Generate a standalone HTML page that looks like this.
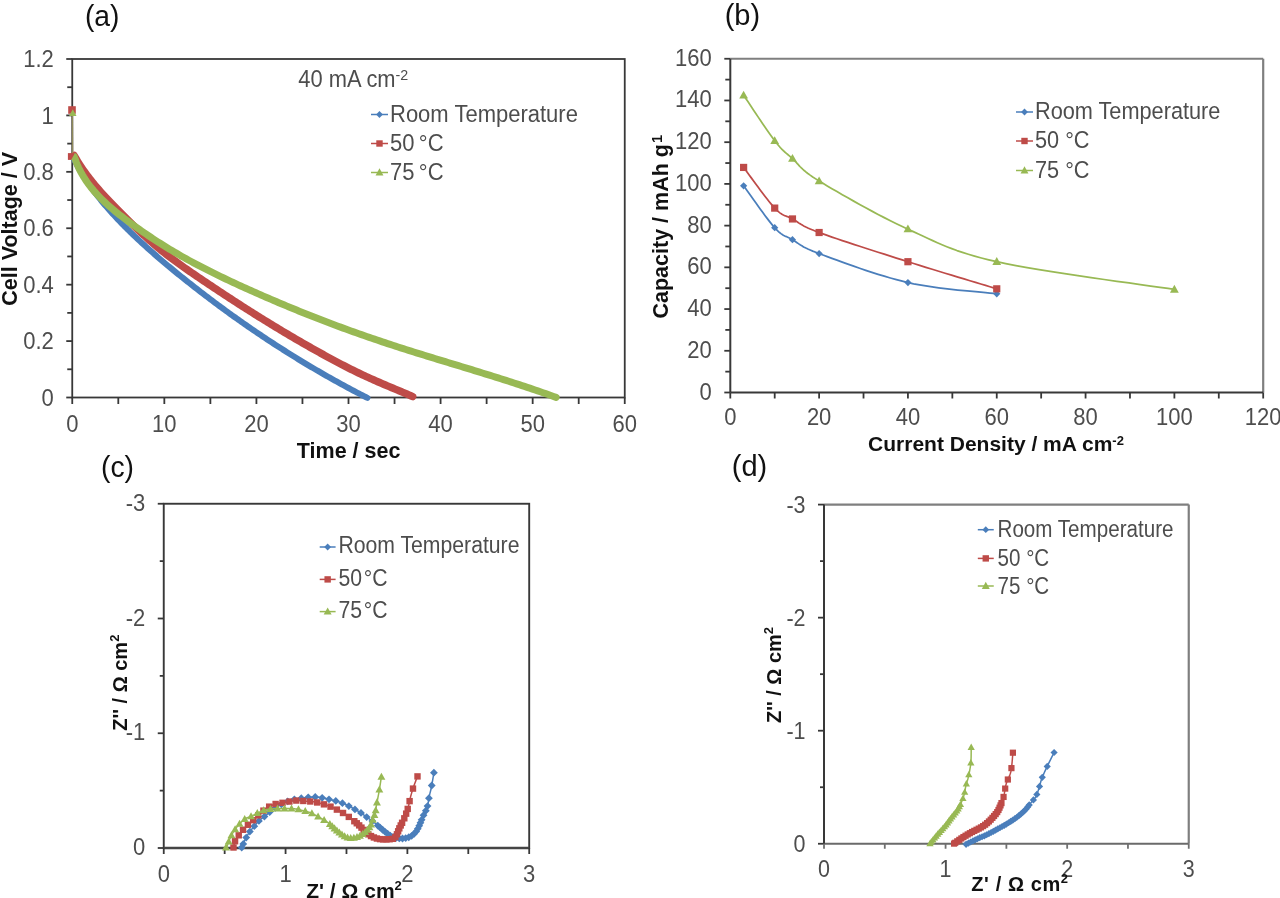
<!DOCTYPE html>
<html><head><meta charset="utf-8"><style>
html,body{margin:0;padding:0;background:#fff;}
svg{display:block;filter:blur(0.45px);font-family:"Liberation Sans",sans-serif;}
</style></head><body>
<svg width="1280" height="898" viewBox="0 0 1280 898">
<rect width="1280" height="898" fill="#fff"/>
<rect x="72.25" y="59" width="552.5" height="338.5" fill="none" stroke="#383838" stroke-width="1.8"/>
<line x1="66.25" y1="397.5" x2="72.25" y2="397.5" stroke="#383838" stroke-width="1.8"/>
<line x1="67.25" y1="369.29" x2="72.25" y2="369.29" stroke="#383838" stroke-width="1.8"/>
<line x1="66.25" y1="341.08" x2="72.25" y2="341.08" stroke="#383838" stroke-width="1.8"/>
<line x1="67.25" y1="312.88" x2="72.25" y2="312.88" stroke="#383838" stroke-width="1.8"/>
<line x1="66.25" y1="284.67" x2="72.25" y2="284.67" stroke="#383838" stroke-width="1.8"/>
<line x1="67.25" y1="256.46" x2="72.25" y2="256.46" stroke="#383838" stroke-width="1.8"/>
<line x1="66.25" y1="228.25" x2="72.25" y2="228.25" stroke="#383838" stroke-width="1.8"/>
<line x1="67.25" y1="200.04" x2="72.25" y2="200.04" stroke="#383838" stroke-width="1.8"/>
<line x1="66.25" y1="171.83" x2="72.25" y2="171.83" stroke="#383838" stroke-width="1.8"/>
<line x1="67.25" y1="143.62" x2="72.25" y2="143.62" stroke="#383838" stroke-width="1.8"/>
<line x1="66.25" y1="115.42" x2="72.25" y2="115.42" stroke="#383838" stroke-width="1.8"/>
<line x1="67.25" y1="87.21" x2="72.25" y2="87.21" stroke="#383838" stroke-width="1.8"/>
<line x1="66.25" y1="59" x2="72.25" y2="59" stroke="#383838" stroke-width="1.8"/>
<line x1="72.25" y1="397.5" x2="72.25" y2="404" stroke="#383838" stroke-width="1.8"/>
<line x1="118.29" y1="397.5" x2="118.29" y2="404" stroke="#383838" stroke-width="1.8"/>
<line x1="164.33" y1="397.5" x2="164.33" y2="404" stroke="#383838" stroke-width="1.8"/>
<line x1="210.38" y1="397.5" x2="210.38" y2="404" stroke="#383838" stroke-width="1.8"/>
<line x1="256.42" y1="397.5" x2="256.42" y2="404" stroke="#383838" stroke-width="1.8"/>
<line x1="302.46" y1="397.5" x2="302.46" y2="404" stroke="#383838" stroke-width="1.8"/>
<line x1="348.5" y1="397.5" x2="348.5" y2="404" stroke="#383838" stroke-width="1.8"/>
<line x1="394.54" y1="397.5" x2="394.54" y2="404" stroke="#383838" stroke-width="1.8"/>
<line x1="440.58" y1="397.5" x2="440.58" y2="404" stroke="#383838" stroke-width="1.8"/>
<line x1="486.62" y1="397.5" x2="486.62" y2="404" stroke="#383838" stroke-width="1.8"/>
<line x1="532.67" y1="397.5" x2="532.67" y2="404" stroke="#383838" stroke-width="1.8"/>
<line x1="578.71" y1="397.5" x2="578.71" y2="404" stroke="#383838" stroke-width="1.8"/>
<line x1="624.75" y1="397.5" x2="624.75" y2="404" stroke="#383838" stroke-width="1.8"/>
<text x="53.75" y="405.6" font-size="24.64" text-anchor="end" fill="#4d4d4d" textLength="12.24" lengthAdjust="spacingAndGlyphs">0</text>
<text x="53.75" y="349.18" font-size="24.64" text-anchor="end" fill="#4d4d4d" textLength="30.58" lengthAdjust="spacingAndGlyphs">0.2</text>
<text x="53.75" y="292.77" font-size="24.64" text-anchor="end" fill="#4d4d4d" textLength="30.58" lengthAdjust="spacingAndGlyphs">0.4</text>
<text x="53.75" y="236.35" font-size="24.64" text-anchor="end" fill="#4d4d4d" textLength="30.58" lengthAdjust="spacingAndGlyphs">0.6</text>
<text x="53.75" y="179.93" font-size="24.64" text-anchor="end" fill="#4d4d4d" textLength="30.58" lengthAdjust="spacingAndGlyphs">0.8</text>
<text x="53.75" y="123.52" font-size="24.64" text-anchor="end" fill="#4d4d4d" textLength="12.24" lengthAdjust="spacingAndGlyphs">1</text>
<text x="53.75" y="67.1" font-size="24.64" text-anchor="end" fill="#4d4d4d" textLength="30.58" lengthAdjust="spacingAndGlyphs">1.2</text>
<text x="72.25" y="431.8" font-size="24.64" text-anchor="middle" fill="#4d4d4d" textLength="12.24" lengthAdjust="spacingAndGlyphs">0</text>
<text x="164.33" y="431.8" font-size="24.64" text-anchor="middle" fill="#4d4d4d" textLength="24.47" lengthAdjust="spacingAndGlyphs">10</text>
<text x="256.42" y="431.8" font-size="24.64" text-anchor="middle" fill="#4d4d4d" textLength="24.47" lengthAdjust="spacingAndGlyphs">20</text>
<text x="348.5" y="431.8" font-size="24.64" text-anchor="middle" fill="#4d4d4d" textLength="24.47" lengthAdjust="spacingAndGlyphs">30</text>
<text x="440.58" y="431.8" font-size="24.64" text-anchor="middle" fill="#4d4d4d" textLength="24.47" lengthAdjust="spacingAndGlyphs">40</text>
<text x="532.67" y="431.8" font-size="24.64" text-anchor="middle" fill="#4d4d4d" textLength="24.47" lengthAdjust="spacingAndGlyphs">50</text>
<text x="624.75" y="431.8" font-size="24.64" text-anchor="middle" fill="#4d4d4d" textLength="24.47" lengthAdjust="spacingAndGlyphs">60</text>
<path d="M72.4,112 L72.6,155" fill="none" stroke="#4a7ebb" stroke-width="1.4" stroke-linejoin="round" stroke-linecap="round" opacity="0.55"/>
<path d="M73.29,157.65 L74.13,159.35 L74.98,161.04 L75.84,162.73 L76.73,164.41 L77.63,166.08 L78.55,167.74 L79.49,169.39 L80.45,171.03 L81.42,172.67 L82.4,174.3 L83.41,175.91 L84.42,177.52 L85.46,179.13 L86.5,180.72 L87.57,182.31 L88.64,183.88 L89.74,185.46 L90.84,187.02 L91.96,188.57 L93.09,190.12 L94.23,191.66 L95.39,193.19 L96.56,194.72 L97.74,196.24 L98.94,197.75 L100.14,199.25 L101.36,200.75 L102.58,202.23 L103.82,203.72 L105.07,205.19 L106.33,206.66 L107.59,208.12 L108.87,209.58 L110.16,211.03 L111.45,212.47 L112.75,213.91 L114.07,215.34 L115.39,216.76 L116.72,218.18 L118.05,219.59 L119.39,220.99 L120.74,222.39 L122.1,223.78 L123.46,225.17 L124.83,226.55 L126.2,227.93 L127.58,229.3 L128.97,230.66 L130.36,232.02 L131.75,233.38 L133.15,234.73 L134.56,236.07 L135.96,237.41 L137.38,238.74 L138.79,240.07 L140.21,241.39 L141.64,242.71 L143.07,244.02 L144.5,245.33 L145.94,246.64 L147.38,247.94 L148.83,249.23 L150.28,250.52 L151.73,251.81 L153.18,253.09 L154.64,254.37 L156.11,255.64 L157.57,256.91 L159.04,258.18 L160.51,259.44 L161.99,260.7 L163.47,261.95 L164.95,263.2 L166.43,264.45 L167.92,265.69 L169.41,266.93 L170.9,268.17 L172.4,269.4 L173.89,270.63 L175.39,271.86 L176.89,273.08 L178.4,274.3 L179.9,275.52 L181.41,276.73 L182.92,277.94 L184.43,279.15 L185.95,280.36 L187.46,281.56 L188.98,282.77 L190.5,283.96 L192.02,285.16 L193.54,286.35 L195.06,287.55 L196.59,288.73 L198.12,289.92 L199.64,291.1 L201.18,292.28 L202.71,293.46 L204.24,294.63 L205.78,295.81 L207.32,296.98 L208.86,298.14 L210.4,299.31 L211.94,300.47 L213.49,301.63 L215.03,302.78 L216.58,303.94 L218.13,305.09 L219.69,306.23 L221.24,307.38 L222.8,308.52 L224.35,309.66 L225.91,310.8 L227.48,311.93 L229.04,313.07 L230.6,314.19 L232.17,315.32 L233.74,316.44 L235.31,317.56 L236.88,318.68 L238.46,319.8 L240.04,320.91 L241.61,322.02 L243.19,323.13 L244.78,324.23 L246.36,325.33 L247.95,326.43 L249.53,327.52 L251.12,328.62 L252.72,329.71 L254.31,330.79 L255.91,331.88 L257.5,332.96 L259.1,334.04 L260.7,335.11 L262.31,336.19 L263.91,337.26 L265.52,338.33 L267.13,339.39 L268.74,340.45 L270.35,341.51 L271.97,342.57 L273.58,343.62 L275.2,344.67 L276.82,345.72 L278.45,346.76 L280.07,347.8 L281.7,348.84 L283.33,349.88 L284.96,350.91 L286.59,351.94 L288.23,352.97 L289.86,353.99 L291.5,355.02 L293.14,356.03 L294.79,357.05 L296.43,358.06 L298.08,359.07 L299.73,360.08 L301.38,361.08 L303.03,362.08 L304.69,363.08 L306.34,364.08 L308,365.07 L309.66,366.06 L311.33,367.04 L312.99,368.03 L314.66,369.01 L316.33,369.99 L318,370.96 L319.67,371.93 L321.35,372.9 L323.03,373.87 L324.71,374.83 L326.39,375.79 L328.07,376.74 L329.76,377.7 L331.45,378.65 L333.14,379.6 L334.83,380.54 L336.53,381.48 L338.22,382.42 L339.92,383.36 L341.62,384.29 L343.33,385.22 L345.03,386.14 L346.74,387.07 L348.45,387.99 L350.16,388.9 L351.87,389.82 L353.59,390.73 L355.31,391.64 L357.03,392.54 L358.75,393.44 L360.48,394.34 L362.2,395.24 L363.93,396.13 L365.67,397.02 L367.4,397.91" fill="none" stroke="#4a7ebb" stroke-width="6" stroke-linejoin="round" stroke-linecap="round" />
<path d="M72.4,112 L72.6,155" fill="none" stroke="#be4b48" stroke-width="1.4" stroke-linejoin="round" stroke-linecap="round" opacity="0.55"/>
<path d="M74.15,155.5 L75.22,157.39 L76.32,159.26 L77.43,161.11 L78.56,162.94 L79.71,164.74 L80.88,166.53 L82.07,168.29 L83.27,170.04 L84.49,171.77 L85.73,173.48 L86.98,175.17 L88.25,176.85 L89.53,178.52 L90.83,180.17 L92.14,181.8 L93.47,183.42 L94.8,185.03 L96.15,186.63 L97.52,188.22 L98.89,189.79 L100.27,191.36 L101.67,192.92 L103.07,194.47 L104.49,196.01 L105.91,197.54 L107.35,199.07 L108.79,200.6 L110.24,202.11 L111.69,203.63 L113.16,205.14 L114.62,206.65 L116.1,208.15 L117.58,209.66 L119.07,211.16 L120.56,212.67 L122.05,214.17 L123.55,215.67 L125.06,217.18 L126.56,218.67 L128.08,220.17 L129.6,221.66 L131.12,223.15 L132.65,224.64 L134.19,226.12 L135.73,227.6 L137.28,229.07 L138.83,230.54 L140.39,232 L141.95,233.45 L143.52,234.9 L145.1,236.34 L146.68,237.77 L148.27,239.2 L149.86,240.61 L151.47,242.02 L153.07,243.42 L154.69,244.8 L156.31,246.18 L157.94,247.55 L159.57,248.9 L161.21,250.24 L162.86,251.57 L164.52,252.89 L166.18,254.2 L167.85,255.49 L169.52,256.78 L171.2,258.05 L172.89,259.32 L174.58,260.57 L176.27,261.82 L177.98,263.06 L179.68,264.29 L181.39,265.52 L183.11,266.73 L184.83,267.95 L186.55,269.15 L188.27,270.35 L190,271.55 L191.74,272.74 L193.47,273.93 L195.21,275.12 L196.95,276.3 L198.69,277.48 L200.43,278.66 L202.17,279.84 L203.92,281.02 L205.67,282.19 L207.42,283.37 L209.17,284.54 L210.92,285.71 L212.67,286.88 L214.43,288.05 L216.19,289.22 L217.95,290.38 L219.71,291.55 L221.47,292.71 L223.23,293.87 L225,295.03 L226.76,296.19 L228.53,297.34 L230.3,298.5 L232.07,299.65 L233.85,300.8 L235.62,301.95 L237.4,303.1 L239.18,304.24 L240.96,305.38 L242.74,306.53 L244.52,307.66 L246.31,308.8 L248.09,309.94 L249.88,311.07 L251.67,312.2 L253.46,313.33 L255.26,314.46 L257.05,315.58 L258.85,316.7 L260.65,317.82 L262.45,318.94 L264.25,320.06 L266.05,321.17 L267.86,322.28 L269.67,323.39 L271.48,324.5 L273.29,325.6 L275.1,326.7 L276.92,327.8 L278.73,328.9 L280.55,329.99 L282.37,331.09 L284.19,332.17 L286.02,333.26 L287.84,334.34 L289.67,335.43 L291.5,336.5 L293.33,337.58 L295.16,338.65 L297,339.72 L298.84,340.79 L300.67,341.85 L302.51,342.92 L304.36,343.97 L306.2,345.03 L308.05,346.08 L309.9,347.13 L311.75,348.18 L313.6,349.22 L315.45,350.26 L317.31,351.3 L319.17,352.33 L321.03,353.37 L322.89,354.39 L324.75,355.42 L326.62,356.44 L328.48,357.46 L330.35,358.47 L332.23,359.48 L334.1,360.49 L335.97,361.49 L337.85,362.49 L339.73,363.48 L341.61,364.47 L343.5,365.44 L345.38,366.42 L347.27,367.38 L349.16,368.34 L351.05,369.29 L352.95,370.23 L354.84,371.16 L356.74,372.09 L358.64,373 L360.54,373.91 L362.45,374.81 L364.35,375.7 L366.26,376.58 L368.17,377.45 L370.08,378.32 L372,379.18 L373.91,380.04 L375.83,380.88 L377.75,381.73 L379.68,382.56 L381.6,383.39 L383.53,384.21 L385.46,385.03 L387.39,385.85 L389.33,386.66 L391.26,387.48 L393.2,388.29 L395.14,389.1 L397.08,389.92 L399.03,390.73 L400.98,391.55 L402.93,392.37 L404.88,393.2 L406.83,394.03 L408.79,394.87 L410.74,395.72 L412.71,396.58" fill="none" stroke="#be4b48" stroke-width="7.5" stroke-linejoin="round" stroke-linecap="round" />
<path d="M72.4,112 L72.6,155" fill="none" stroke="#98b954" stroke-width="1.4" stroke-linejoin="round" stroke-linecap="round" opacity="0.55"/>
<path d="M74.3,156.83 L75.24,159.57 L76.26,162.25 L77.34,164.87 L78.5,167.43 L79.73,169.95 L81.02,172.4 L82.37,174.81 L83.79,177.17 L85.26,179.47 L86.79,181.74 L88.38,183.95 L90.02,186.13 L91.71,188.26 L93.44,190.35 L95.22,192.4 L97.05,194.42 L98.92,196.4 L100.82,198.35 L102.77,200.27 L104.74,202.15 L106.75,204.01 L108.79,205.84 L110.86,207.65 L112.96,209.43 L115.08,211.19 L117.22,212.92 L119.38,214.64 L121.55,216.35 L123.75,218.03 L125.95,219.7 L128.17,221.36 L130.39,223.01 L132.62,224.65 L134.87,226.27 L137.12,227.88 L139.38,229.48 L141.66,231.07 L143.94,232.64 L146.23,234.21 L148.52,235.76 L150.83,237.29 L153.14,238.82 L155.47,240.33 L157.8,241.84 L160.14,243.32 L162.48,244.8 L164.83,246.26 L167.2,247.72 L169.56,249.15 L171.94,250.58 L174.32,251.99 L176.71,253.39 L179.11,254.78 L181.51,256.16 L183.92,257.52 L186.33,258.87 L188.75,260.2 L191.18,261.53 L193.61,262.84 L196.05,264.14 L198.49,265.43 L200.94,266.71 L203.4,267.98 L205.86,269.24 L208.32,270.48 L210.79,271.72 L213.26,272.95 L215.74,274.17 L218.22,275.38 L220.71,276.59 L223.2,277.78 L225.69,278.97 L228.19,280.15 L230.69,281.33 L233.2,282.49 L235.71,283.66 L238.22,284.81 L240.73,285.96 L243.25,287.11 L245.77,288.25 L248.29,289.39 L250.82,290.52 L253.34,291.65 L255.87,292.77 L258.41,293.89 L260.94,295 L263.48,296.11 L266.02,297.21 L268.56,298.31 L271.1,299.41 L273.65,300.5 L276.2,301.59 L278.75,302.67 L281.3,303.74 L283.86,304.81 L286.42,305.88 L288.98,306.94 L291.54,308 L294.1,309.05 L296.67,310.1 L299.23,311.14 L301.8,312.18 L304.38,313.21 L306.95,314.24 L309.53,315.27 L312.1,316.28 L314.68,317.3 L317.26,318.3 L319.85,319.31 L322.43,320.31 L325.02,321.3 L327.61,322.29 L330.2,323.27 L332.79,324.25 L335.38,325.22 L337.98,326.19 L340.57,327.15 L343.17,328.1 L345.77,329.06 L348.37,330 L350.97,330.94 L353.58,331.88 L356.18,332.81 L358.79,333.73 L361.4,334.65 L364,335.57 L366.62,336.48 L369.23,337.38 L371.84,338.28 L374.45,339.17 L377.07,340.06 L379.69,340.94 L382.3,341.82 L384.92,342.69 L387.54,343.55 L390.16,344.41 L392.78,345.27 L395.41,346.12 L398.03,346.97 L400.66,347.81 L403.28,348.65 L405.91,349.48 L408.54,350.31 L411.16,351.14 L413.79,351.97 L416.42,352.79 L419.05,353.61 L421.68,354.42 L424.32,355.24 L426.95,356.05 L429.58,356.86 L432.21,357.67 L434.85,358.48 L437.48,359.28 L440.12,360.09 L442.75,360.89 L445.39,361.69 L448.03,362.49 L450.66,363.3 L453.3,364.1 L455.94,364.9 L458.58,365.7 L461.22,366.5 L463.85,367.31 L466.49,368.11 L469.13,368.92 L471.77,369.72 L474.41,370.53 L477.05,371.34 L479.69,372.15 L482.33,372.97 L484.97,373.78 L487.61,374.6 L490.25,375.42 L492.89,376.24 L495.53,377.07 L498.17,377.9 L500.81,378.73 L503.44,379.57 L506.08,380.41 L508.72,381.26 L511.36,382.11 L514,382.96 L516.64,383.82 L519.27,384.69 L521.91,385.55 L524.55,386.43 L527.18,387.31 L529.82,388.19 L532.46,389.09 L535.09,389.98 L537.73,390.89 L540.36,391.8 L542.99,392.71 L545.63,393.64 L548.26,394.57 L550.89,395.51 L553.52,396.45 L556.15,397.41" fill="none" stroke="#98b954" stroke-width="7" stroke-linejoin="round" stroke-linecap="round" />
<rect x="68.2" y="106.2" width="7.6" height="7.6" fill="#be4b48"/>
<path d="M72.8,109.29 L76.54,115.92 L69.06,115.92Z" fill="#98b954"/>
<rect x="67.9" y="153.1" width="6.8" height="6.8" fill="#be4b48"/>
<path d="M75,153.06 L78.96,160.08 L71.04,160.08Z" fill="#98b954"/>
<line x1="371" y1="114.5" x2="388" y2="114.5" stroke="#4a7ebb" stroke-width="1.5"/>
<path d="M379.5,111.1 L382.9,114.5 L379.5,117.9 L376.1,114.5Z" fill="#4a7ebb"/>
<text x="390" y="121.97" font-size="24.64" text-anchor="start" fill="#4d4d4d" textLength="187.91" lengthAdjust="spacingAndGlyphs">Room Temperature</text>
<line x1="371" y1="143.5" x2="388" y2="143.5" stroke="#be4b48" stroke-width="1.5"/>
<rect x="376.3" y="140.3" width="6.4" height="6.4" fill="#be4b48"/>
<text x="390" y="150.97" font-size="24.64" text-anchor="start" fill="#4d4d4d" textLength="53.56" lengthAdjust="spacingAndGlyphs">50&#8201;°C</text>
<line x1="371" y1="172.5" x2="388" y2="172.5" stroke="#98b954" stroke-width="1.5"/>
<path d="M379.5,168.36 L383.46,175.38 L375.54,175.38Z" fill="#98b954"/>
<text x="390" y="179.97" font-size="24.64" text-anchor="start" fill="#4d4d4d" textLength="53.56" lengthAdjust="spacingAndGlyphs">75&#8201;°C</text>
<text x="298.3" y="87" font-size="23" text-anchor="start" fill="#4d4d4d" textLength="110" lengthAdjust="spacingAndGlyphs">40 mA cm<tspan font-size="15" dy="-7">-2</tspan></text>
<text x="348.6" y="458" font-size="21.5" text-anchor="middle" fill="#111111" font-weight="bold" >Time / sec</text>
<text x="0" y="0" font-size="21.5" text-anchor="middle" fill="#111111" font-weight="bold" transform="translate(17.2,228.8) rotate(-90)">Cell Voltage / V</text>
<text x="102.2" y="26.2" font-size="30" text-anchor="middle" fill="#111111" font-weight="normal" textLength="34.5" lengthAdjust="spacingAndGlyphs">(a)</text>
<line x1="730.3" y1="58.75" x2="1263.2" y2="58.75" stroke="#7f7f7f" stroke-width="2.2"/>
<line x1="1263.2" y1="58.75" x2="1263.2" y2="392.5" stroke="#7f7f7f" stroke-width="2.2"/>
<line x1="730.3" y1="58.75" x2="730.3" y2="392.5" stroke="#383838" stroke-width="2"/>
<line x1="730.3" y1="392.5" x2="1263.2" y2="392.5" stroke="#383838" stroke-width="2"/>
<line x1="724.3" y1="392.5" x2="730.3" y2="392.5" stroke="#383838" stroke-width="1.8"/>
<line x1="725.3" y1="371.64" x2="730.3" y2="371.64" stroke="#383838" stroke-width="1.8"/>
<line x1="724.3" y1="350.78" x2="730.3" y2="350.78" stroke="#383838" stroke-width="1.8"/>
<line x1="725.3" y1="329.92" x2="730.3" y2="329.92" stroke="#383838" stroke-width="1.8"/>
<line x1="724.3" y1="309.06" x2="730.3" y2="309.06" stroke="#383838" stroke-width="1.8"/>
<line x1="725.3" y1="288.2" x2="730.3" y2="288.2" stroke="#383838" stroke-width="1.8"/>
<line x1="724.3" y1="267.34" x2="730.3" y2="267.34" stroke="#383838" stroke-width="1.8"/>
<line x1="725.3" y1="246.48" x2="730.3" y2="246.48" stroke="#383838" stroke-width="1.8"/>
<line x1="724.3" y1="225.62" x2="730.3" y2="225.62" stroke="#383838" stroke-width="1.8"/>
<line x1="725.3" y1="204.77" x2="730.3" y2="204.77" stroke="#383838" stroke-width="1.8"/>
<line x1="724.3" y1="183.91" x2="730.3" y2="183.91" stroke="#383838" stroke-width="1.8"/>
<line x1="725.3" y1="163.05" x2="730.3" y2="163.05" stroke="#383838" stroke-width="1.8"/>
<line x1="724.3" y1="142.19" x2="730.3" y2="142.19" stroke="#383838" stroke-width="1.8"/>
<line x1="725.3" y1="121.33" x2="730.3" y2="121.33" stroke="#383838" stroke-width="1.8"/>
<line x1="724.3" y1="100.47" x2="730.3" y2="100.47" stroke="#383838" stroke-width="1.8"/>
<line x1="725.3" y1="79.61" x2="730.3" y2="79.61" stroke="#383838" stroke-width="1.8"/>
<line x1="724.3" y1="58.75" x2="730.3" y2="58.75" stroke="#383838" stroke-width="1.8"/>
<line x1="730.3" y1="392.5" x2="730.3" y2="398.5" stroke="#383838" stroke-width="1.8"/>
<line x1="774.71" y1="392.5" x2="774.71" y2="398.5" stroke="#383838" stroke-width="1.8"/>
<line x1="819.12" y1="392.5" x2="819.12" y2="398.5" stroke="#383838" stroke-width="1.8"/>
<line x1="863.52" y1="392.5" x2="863.52" y2="398.5" stroke="#383838" stroke-width="1.8"/>
<line x1="907.93" y1="392.5" x2="907.93" y2="398.5" stroke="#383838" stroke-width="1.8"/>
<line x1="952.34" y1="392.5" x2="952.34" y2="398.5" stroke="#383838" stroke-width="1.8"/>
<line x1="996.75" y1="392.5" x2="996.75" y2="398.5" stroke="#383838" stroke-width="1.8"/>
<line x1="1041.16" y1="392.5" x2="1041.16" y2="398.5" stroke="#383838" stroke-width="1.8"/>
<line x1="1085.57" y1="392.5" x2="1085.57" y2="398.5" stroke="#383838" stroke-width="1.8"/>
<line x1="1129.97" y1="392.5" x2="1129.97" y2="398.5" stroke="#383838" stroke-width="1.8"/>
<line x1="1174.38" y1="392.5" x2="1174.38" y2="398.5" stroke="#383838" stroke-width="1.8"/>
<line x1="1218.79" y1="392.5" x2="1218.79" y2="398.5" stroke="#383838" stroke-width="1.8"/>
<line x1="1263.2" y1="392.5" x2="1263.2" y2="398.5" stroke="#383838" stroke-width="1.8"/>
<text x="711.8" y="399.5" font-size="24.64" text-anchor="end" fill="#4d4d4d" textLength="12.24" lengthAdjust="spacingAndGlyphs">0</text>
<text x="711.8" y="357.78" font-size="24.64" text-anchor="end" fill="#4d4d4d" textLength="24.47" lengthAdjust="spacingAndGlyphs">20</text>
<text x="711.8" y="316.06" font-size="24.64" text-anchor="end" fill="#4d4d4d" textLength="24.47" lengthAdjust="spacingAndGlyphs">40</text>
<text x="711.8" y="274.34" font-size="24.64" text-anchor="end" fill="#4d4d4d" textLength="24.47" lengthAdjust="spacingAndGlyphs">60</text>
<text x="711.8" y="232.62" font-size="24.64" text-anchor="end" fill="#4d4d4d" textLength="24.47" lengthAdjust="spacingAndGlyphs">80</text>
<text x="711.8" y="190.91" font-size="24.64" text-anchor="end" fill="#4d4d4d" textLength="36.71" lengthAdjust="spacingAndGlyphs">100</text>
<text x="711.8" y="149.19" font-size="24.64" text-anchor="end" fill="#4d4d4d" textLength="36.71" lengthAdjust="spacingAndGlyphs">120</text>
<text x="711.8" y="107.47" font-size="24.64" text-anchor="end" fill="#4d4d4d" textLength="36.71" lengthAdjust="spacingAndGlyphs">140</text>
<text x="711.8" y="65.75" font-size="24.64" text-anchor="end" fill="#4d4d4d" textLength="36.71" lengthAdjust="spacingAndGlyphs">160</text>
<text x="730.3" y="425.3" font-size="24.64" text-anchor="middle" fill="#4d4d4d" textLength="12.24" lengthAdjust="spacingAndGlyphs">0</text>
<text x="819.12" y="425.3" font-size="24.64" text-anchor="middle" fill="#4d4d4d" textLength="24.47" lengthAdjust="spacingAndGlyphs">20</text>
<text x="907.93" y="425.3" font-size="24.64" text-anchor="middle" fill="#4d4d4d" textLength="24.47" lengthAdjust="spacingAndGlyphs">40</text>
<text x="996.75" y="425.3" font-size="24.64" text-anchor="middle" fill="#4d4d4d" textLength="24.47" lengthAdjust="spacingAndGlyphs">60</text>
<text x="1085.57" y="425.3" font-size="24.64" text-anchor="middle" fill="#4d4d4d" textLength="24.47" lengthAdjust="spacingAndGlyphs">80</text>
<text x="1174.38" y="425.3" font-size="24.64" text-anchor="middle" fill="#4d4d4d" textLength="36.71" lengthAdjust="spacingAndGlyphs">100</text>
<text x="1263.2" y="425.3" font-size="24.64" text-anchor="middle" fill="#4d4d4d" textLength="36.71" lengthAdjust="spacingAndGlyphs">120</text>
<path d="M743.62,185.78 L744.74,187.31 L746.11,189.22 L747.72,191.48 L749.52,194.02 L751.49,196.79 L753.59,199.75 L755.79,202.84 L758.06,206 L760.36,209.18 L762.66,212.34 L764.93,215.41 L767.15,218.35 L769.26,221.1 L771.25,223.62 L773.07,225.84 L774.71,227.71 L776.17,229.28 L777.51,230.63 L778.74,231.79 L779.88,232.77 L780.95,233.61 L781.96,234.32 L782.92,234.93 L783.87,235.46 L784.8,235.94 L785.75,236.39 L786.71,236.82 L787.72,237.28 L788.78,237.77 L789.92,238.32 L791.14,238.96 L792.47,239.71 L793.78,240.49 L794.95,241.25 L796.03,241.97 L797.05,242.69 L798.06,243.39 L799.08,244.1 L800.17,244.83 L801.35,245.58 L802.68,246.36 L804.18,247.18 L805.9,248.06 L807.88,249 L810.15,250.01 L812.75,251.11 L815.73,252.29 L819.12,253.58 L822.96,255.01 L827.24,256.6 L831.92,258.33 L836.95,260.18 L842.28,262.12 L847.87,264.12 L853.67,266.17 L859.64,268.24 L865.73,270.3 L871.89,272.33 L878.09,274.31 L884.27,276.21 L890.39,278.02 L896.41,279.69 L902.27,281.22 L907.93,282.57 L913.65,283.78 L919.64,284.9 L925.85,285.94 L932.22,286.9 L938.67,287.78 L945.14,288.59 L951.57,289.33 L957.89,290.02 L964.04,290.64 L969.95,291.22 L975.55,291.74 L980.79,292.23 L985.59,292.67 L989.9,293.09 L993.64,293.47 L996.75,293.84" fill="none" stroke="#4a7ebb" stroke-width="1.75" stroke-linejoin="round" stroke-linecap="round" />
<path d="M743.62,182.18 L747.22,185.78 L743.62,189.38 L740.02,185.78Z" fill="#4a7ebb"/>
<path d="M774.71,224.11 L778.31,227.71 L774.71,231.31 L771.11,227.71Z" fill="#4a7ebb"/>
<path d="M792.47,236.11 L796.07,239.71 L792.47,243.31 L788.87,239.71Z" fill="#4a7ebb"/>
<path d="M819.12,249.98 L822.72,253.58 L819.12,257.18 L815.52,253.58Z" fill="#4a7ebb"/>
<path d="M907.93,278.97 L911.53,282.57 L907.93,286.17 L904.33,282.57Z" fill="#4a7ebb"/>
<path d="M996.75,290.24 L1000.35,293.84 L996.75,297.44 L993.15,293.84Z" fill="#4a7ebb"/>
<path d="M743.62,167.43 L744.74,168.91 L746.11,170.77 L747.72,172.96 L749.52,175.44 L751.49,178.14 L753.59,181.01 L755.79,184.01 L758.06,187.09 L760.36,190.18 L762.66,193.25 L764.93,196.23 L767.15,199.08 L769.26,201.74 L771.25,204.17 L773.07,206.31 L774.71,208.1 L776.17,209.6 L777.51,210.87 L778.74,211.94 L779.88,212.85 L780.95,213.6 L781.96,214.24 L782.92,214.77 L783.87,215.22 L784.8,215.62 L785.75,215.99 L786.71,216.36 L787.72,216.75 L788.78,217.17 L789.92,217.67 L791.14,218.25 L792.47,218.95 L793.78,219.69 L794.95,220.41 L796.03,221.1 L797.05,221.78 L798.06,222.46 L799.08,223.15 L800.17,223.85 L801.35,224.58 L802.68,225.35 L804.18,226.16 L805.9,227.03 L807.88,227.96 L810.15,228.96 L812.75,230.05 L815.73,231.23 L819.12,232.51 L822.96,233.91 L827.24,235.42 L831.92,237.05 L836.95,238.76 L842.28,240.55 L847.87,242.41 L853.67,244.31 L859.64,246.26 L865.73,248.24 L871.89,250.23 L878.09,252.21 L884.27,254.19 L890.39,256.14 L896.41,258.05 L902.27,259.92 L907.93,261.71 L913.65,263.51 L919.64,265.39 L925.85,267.31 L932.22,269.27 L938.67,271.25 L945.14,273.23 L951.57,275.18 L957.89,277.1 L964.04,278.95 L969.95,280.74 L975.55,282.43 L980.79,284.01 L985.59,285.45 L989.9,286.75 L993.64,287.88 L996.75,288.83" fill="none" stroke="#be4b48" stroke-width="1.75" stroke-linejoin="round" stroke-linecap="round" />
<rect x="740.02" y="163.83" width="7.2" height="7.2" fill="#be4b48"/>
<rect x="771.11" y="204.5" width="7.2" height="7.2" fill="#be4b48"/>
<rect x="788.87" y="215.35" width="7.2" height="7.2" fill="#be4b48"/>
<rect x="815.52" y="228.91" width="7.2" height="7.2" fill="#be4b48"/>
<rect x="904.33" y="258.11" width="7.2" height="7.2" fill="#be4b48"/>
<rect x="993.15" y="285.23" width="7.2" height="7.2" fill="#be4b48"/>
<path d="M743.62,95.25 L744.74,96.9 L746.11,98.95 L747.72,101.36 L749.52,104.07 L751.49,107.03 L753.59,110.19 L755.79,113.48 L758.06,116.87 L760.36,120.29 L762.66,123.69 L764.93,127.02 L767.15,130.23 L769.26,133.26 L771.25,136.05 L773.07,138.56 L774.71,140.73 L776.17,142.6 L777.51,144.26 L778.74,145.73 L779.88,147.05 L780.95,148.22 L781.96,149.28 L782.92,150.25 L783.87,151.14 L784.8,152 L785.75,152.83 L786.71,153.66 L787.72,154.52 L788.78,155.42 L789.92,156.4 L791.14,157.48 L792.47,158.67 L793.78,159.89 L794.95,161.07 L796.03,162.21 L797.05,163.33 L798.06,164.45 L799.08,165.58 L800.17,166.74 L801.35,167.94 L802.68,169.2 L804.18,170.53 L805.9,171.95 L807.88,173.48 L810.15,175.14 L812.75,176.93 L815.73,178.87 L819.12,180.99 L822.96,183.32 L827.24,185.88 L831.92,188.64 L836.95,191.58 L842.28,194.66 L847.87,197.85 L853.67,201.12 L859.64,204.44 L865.73,207.78 L871.89,211.11 L878.09,214.4 L884.27,217.62 L890.39,220.74 L896.41,223.72 L902.27,226.54 L907.93,229.17 L913.32,231.64 L918.43,234.02 L923.32,236.31 L928.06,238.52 L932.71,240.66 L937.34,242.73 L942.01,244.75 L946.79,246.72 L951.75,248.65 L956.94,250.55 L962.44,252.42 L968.3,254.28 L974.6,256.13 L981.4,257.98 L988.76,259.84 L996.75,261.71 L1005.74,263.63 L1015.92,265.6 L1027.1,267.61 L1039.08,269.64 L1051.66,271.67 L1064.66,273.69 L1077.88,275.67 L1091.12,277.62 L1104.18,279.5 L1116.88,281.29 L1129.01,282.99 L1140.38,284.58 L1150.8,286.04 L1160.07,287.35 L1168,288.49 L1174.38,289.45" fill="none" stroke="#98b954" stroke-width="1.75" stroke-linejoin="round" stroke-linecap="round" />
<path d="M743.62,90.65 L748.02,98.45 L739.22,98.45Z" fill="#98b954"/>
<path d="M774.71,136.13 L779.11,143.93 L770.31,143.93Z" fill="#98b954"/>
<path d="M792.47,154.07 L796.87,161.87 L788.07,161.87Z" fill="#98b954"/>
<path d="M819.12,176.39 L823.52,184.19 L814.72,184.19Z" fill="#98b954"/>
<path d="M907.93,224.57 L912.33,232.37 L903.53,232.37Z" fill="#98b954"/>
<path d="M996.75,257.11 L1001.15,264.91 L992.35,264.91Z" fill="#98b954"/>
<path d="M1174.38,284.85 L1178.78,292.65 L1169.98,292.65Z" fill="#98b954"/>
<line x1="1016" y1="112" x2="1033" y2="112" stroke="#4a7ebb" stroke-width="1.5"/>
<path d="M1024.5,108.6 L1027.9,112 L1024.5,115.4 L1021.1,112Z" fill="#4a7ebb"/>
<text x="1035" y="119.15" font-size="24.3" text-anchor="start" fill="#4d4d4d" textLength="185.35" lengthAdjust="spacingAndGlyphs">Room Temperature</text>
<line x1="1016" y1="141" x2="1033" y2="141" stroke="#be4b48" stroke-width="1.5"/>
<rect x="1021.3" y="137.8" width="6.4" height="6.4" fill="#be4b48"/>
<text x="1035" y="148.15" font-size="24.3" text-anchor="start" fill="#4d4d4d" textLength="54.52" lengthAdjust="spacingAndGlyphs">50 °C</text>
<line x1="1016" y1="170.5" x2="1033" y2="170.5" stroke="#98b954" stroke-width="1.5"/>
<path d="M1024.5,166.36 L1028.46,173.38 L1020.54,173.38Z" fill="#98b954"/>
<text x="1035" y="177.65" font-size="24.3" text-anchor="start" fill="#4d4d4d" textLength="54.52" lengthAdjust="spacingAndGlyphs">75 °C</text>
<text x="996" y="451" font-size="21" text-anchor="middle" fill="#111111" font-weight="bold" >Current Density / mA cm<tspan font-size="13" dy="-6">-2</tspan></text>
<text x="0" y="0" font-size="21.5" text-anchor="start" fill="#111111" font-weight="bold" transform="translate(668.3,318.5) rotate(-90)">Capacity / mAh g<tspan font-size="14.5" dy="-6.5" dx="1">1</tspan></text>
<text x="742.4" y="24.8" font-size="30" text-anchor="middle" fill="#111111" font-weight="normal" textLength="35.5" lengthAdjust="spacingAndGlyphs">(b)</text>
<rect x="163.75" y="503.75" width="365.45000000000005" height="344.25" fill="none" stroke="#383838" stroke-width="1.9"/>
<line x1="163.75" y1="848" x2="529.2" y2="848" stroke="#454545" stroke-width="2.5"/>
<line x1="157.75" y1="848" x2="163.75" y2="848" stroke="#383838" stroke-width="1.8"/>
<line x1="159.75" y1="790.62" x2="163.75" y2="790.62" stroke="#383838" stroke-width="1.8"/>
<line x1="157.75" y1="733.25" x2="163.75" y2="733.25" stroke="#383838" stroke-width="1.8"/>
<line x1="159.75" y1="675.88" x2="163.75" y2="675.88" stroke="#383838" stroke-width="1.8"/>
<line x1="157.75" y1="618.5" x2="163.75" y2="618.5" stroke="#383838" stroke-width="1.8"/>
<line x1="159.75" y1="561.12" x2="163.75" y2="561.12" stroke="#383838" stroke-width="1.8"/>
<line x1="157.75" y1="503.75" x2="163.75" y2="503.75" stroke="#383838" stroke-width="1.8"/>
<line x1="163.75" y1="848" x2="163.75" y2="854" stroke="#383838" stroke-width="1.8"/>
<line x1="224.66" y1="848" x2="224.66" y2="854" stroke="#383838" stroke-width="1.8"/>
<line x1="285.57" y1="848" x2="285.57" y2="854" stroke="#383838" stroke-width="1.8"/>
<line x1="346.48" y1="848" x2="346.48" y2="854" stroke="#383838" stroke-width="1.8"/>
<line x1="407.38" y1="848" x2="407.38" y2="854" stroke="#383838" stroke-width="1.8"/>
<line x1="468.29" y1="848" x2="468.29" y2="854" stroke="#383838" stroke-width="1.8"/>
<line x1="529.2" y1="848" x2="529.2" y2="854" stroke="#383838" stroke-width="1.8"/>
<text x="145.25" y="855.2" font-size="24.64" text-anchor="end" fill="#4d4d4d" textLength="12.24" lengthAdjust="spacingAndGlyphs">0</text>
<text x="163.75" y="882" font-size="24.64" text-anchor="middle" fill="#4d4d4d" textLength="12.24" lengthAdjust="spacingAndGlyphs">0</text>
<text x="145.25" y="740.45" font-size="24.64" text-anchor="end" fill="#4d4d4d" textLength="19.56" lengthAdjust="spacingAndGlyphs">-1</text>
<text x="285.57" y="882" font-size="24.64" text-anchor="middle" fill="#4d4d4d" textLength="12.24" lengthAdjust="spacingAndGlyphs">1</text>
<text x="145.25" y="625.7" font-size="24.64" text-anchor="end" fill="#4d4d4d" textLength="19.56" lengthAdjust="spacingAndGlyphs">-2</text>
<text x="407.38" y="882" font-size="24.64" text-anchor="middle" fill="#4d4d4d" textLength="12.24" lengthAdjust="spacingAndGlyphs">2</text>
<text x="145.25" y="510.95" font-size="24.64" text-anchor="end" fill="#4d4d4d" textLength="19.56" lengthAdjust="spacingAndGlyphs">-3</text>
<text x="529.2" y="882" font-size="24.64" text-anchor="middle" fill="#4d4d4d" textLength="12.24" lengthAdjust="spacingAndGlyphs">3</text>
<text x="354" y="897.5" font-size="21" text-anchor="middle" fill="#111111" font-weight="bold" >Z' / Ω cm<tspan font-size="13" dy="-8">2</tspan></text>
<text x="0" y="0" font-size="20" text-anchor="middle" fill="#111111" font-weight="bold" transform="translate(126.7,682.7) rotate(-90)">Z'' / Ω cm<tspan font-size="13" dy="-8">2</tspan></text>
<text x="117.5" y="477.3" font-size="30" text-anchor="middle" fill="#111111" font-weight="normal" textLength="33" lengthAdjust="spacingAndGlyphs">(c)</text>
<line x1="319.7" y1="547" x2="335.6" y2="547" stroke="#4a7ebb" stroke-width="1.5"/>
<path d="M327.65,543.6 L331.05,547 L327.65,550.4 L324.25,547Z" fill="#4a7ebb"/>
<text x="338.4" y="553.25" font-size="23.74" text-anchor="start" fill="#4d4d4d" textLength="181.08" lengthAdjust="spacingAndGlyphs">Room Temperature</text>
<line x1="319.7" y1="579.4" x2="335.6" y2="579.4" stroke="#be4b48" stroke-width="1.5"/>
<rect x="324.45" y="576.2" width="6.4" height="6.4" fill="#be4b48"/>
<text x="338.4" y="585.65" font-size="23.74" text-anchor="start" fill="#4d4d4d" textLength="49.14" lengthAdjust="spacingAndGlyphs">50&#8202;°C</text>
<line x1="319.7" y1="611.6" x2="335.6" y2="611.6" stroke="#98b954" stroke-width="1.5"/>
<path d="M327.65,607.46 L331.61,614.48 L323.69,614.48Z" fill="#98b954"/>
<text x="338.4" y="617.85" font-size="23.74" text-anchor="start" fill="#4d4d4d" textLength="49.14" lengthAdjust="spacingAndGlyphs">75&#8202;°C</text>
<path d="M241.7,847.5 L241.99,846.83 L242.39,845.93 L242.85,844.85 L243.37,843.66 L243.92,842.41 L244.47,841.18 L245,840.02 L245.5,839 L245.96,838.09 L246.4,837.23 L246.83,836.42 L247.26,835.62 L247.71,834.85 L248.17,834.08 L248.67,833.3 L249.2,832.5 L249.78,831.68 L250.4,830.86 L251.04,830.03 L251.71,829.2 L252.39,828.38 L253.07,827.57 L253.74,826.77 L254.4,826 L255.04,825.24 L255.67,824.48 L256.3,823.74 L256.93,823.01 L257.56,822.29 L258.19,821.6 L258.84,820.94 L259.5,820.3 L260.15,819.73 L260.76,819.24 L261.37,818.79 L262,818.35 L262.66,817.89 L263.39,817.39 L264.19,816.8 L265.1,816.1 L266.1,815.27 L267.15,814.34 L268.27,813.32 L269.46,812.26 L270.73,811.16 L272.07,810.07 L273.49,809.01 L275,808 L276.61,807 L278.3,805.98 L280.09,804.95 L281.95,803.94 L283.88,802.97 L285.87,802.06 L287.91,801.23 L290,800.5 L292.22,799.87 L294.61,799.32 L297.11,798.84 L299.64,798.43 L302.14,798.08 L304.53,797.77 L306.74,797.52 L308.7,797.3 L310.39,797.13 L311.86,797.03 L313.17,796.97 L314.37,796.97 L315.5,797.01 L316.61,797.08 L317.77,797.18 L319,797.3 L320.31,797.46 L321.63,797.67 L322.96,797.92 L324.29,798.21 L325.61,798.51 L326.9,798.81 L328.17,799.11 L329.4,799.4 L330.59,799.67 L331.74,799.94 L332.87,800.2 L333.97,800.47 L335.07,800.76 L336.15,801.05 L337.22,801.36 L338.3,801.7 L339.38,802.06 L340.47,802.45 L341.55,802.85 L342.62,803.26 L343.67,803.69 L344.71,804.12 L345.72,804.56 L346.7,805 L347.64,805.44 L348.56,805.89 L349.45,806.35 L350.31,806.82 L351.17,807.29 L352.01,807.76 L352.85,808.23 L353.7,808.7 L354.54,809.16 L355.38,809.62 L356.2,810.08 L357.03,810.54 L357.84,811 L358.66,811.48 L359.48,811.98 L360.3,812.5 L361.13,813.04 L361.95,813.61 L362.78,814.2 L363.61,814.79 L364.43,815.4 L365.26,816 L366.08,816.61 L366.9,817.2 L367.72,817.78 L368.53,818.35 L369.34,818.92 L370.15,819.49 L370.96,820.07 L371.77,820.66 L372.58,821.27 L373.4,821.9 L374.23,822.56 L375.07,823.26 L375.91,823.97 L376.76,824.7 L377.59,825.43 L378.42,826.14 L379.22,826.84 L380,827.5 L380.74,828.13 L381.45,828.75 L382.14,829.35 L382.81,829.93 L383.49,830.51 L384.17,831.07 L384.87,831.64 L385.6,832.2 L386.35,832.77 L387.11,833.36 L387.87,833.94 L388.65,834.52 L389.45,835.07 L390.27,835.6 L391.12,836.08 L392,836.5 L392.92,836.88 L393.89,837.23 L394.88,837.55 L395.9,837.83 L396.93,838.07 L397.96,838.26 L398.99,838.41 L400,838.5 L401.01,838.54 L402.05,838.52 L403.09,838.45 L404.12,838.34 L405.15,838.19 L406.14,838 L407.1,837.77 L408,837.5 L408.86,837.2 L409.68,836.87 L410.47,836.5 L411.22,836.09 L411.96,835.64 L412.66,835.14 L413.34,834.6 L414,834 L414.62,833.36 L415.21,832.7 L415.75,831.99 L416.28,831.24 L416.8,830.42 L417.32,829.53 L417.85,828.56 L418.4,827.5 L418.99,826.28 L419.6,824.88 L420.22,823.36 L420.85,821.79 L421.46,820.23 L422.05,818.74 L422.6,817.37 L423.1,816.2 L423.55,815.23 L423.95,814.4 L424.33,813.68 L424.68,813.04 L425,812.45 L425.31,811.87 L425.61,811.26 L425.9,810.6 L426.18,809.92 L426.45,809.27 L426.7,808.62 L426.94,807.98 L427.16,807.31 L427.38,806.6 L427.59,805.83 L427.8,805 L427.99,804.09 L428.16,803.13 L428.32,802.12 L428.48,801.07 L428.63,799.98 L428.8,798.87 L428.99,797.74 L429.2,796.6 L429.44,795.46 L429.71,794.33 L429.99,793.18 L430.29,792 L430.59,790.78 L430.9,789.5 L431.2,788.14 L431.5,786.7 L431.81,785.05 L432.15,783.16 L432.5,781.14 L432.84,779.08 L433.17,777.1 L433.47,775.31 L433.71,773.81 L433.9,772.7" fill="none" stroke="#4a7ebb" stroke-width="1.5" stroke-linejoin="round" stroke-linecap="round" />
<path d="M433.9,768.8 L437.8,772.7 L433.9,776.6 L430,772.7Z" fill="#4a7ebb"/>
<path d="M431.72,781.62 L435.62,785.52 L431.72,789.42 L427.82,785.52Z" fill="#4a7ebb"/>
<path d="M428.91,794.3 L432.81,798.2 L428.91,802.1 L425.01,798.2Z" fill="#4a7ebb"/>
<path d="M427.52,802.18 L431.42,806.08 L427.52,809.98 L423.62,806.08Z" fill="#4a7ebb"/>
<path d="M425.82,806.87 L429.72,810.77 L425.82,814.67 L421.92,810.77Z" fill="#4a7ebb"/>
<path d="M423.55,811.33 L427.45,815.23 L423.55,819.13 L419.65,815.23Z" fill="#4a7ebb"/>
<path d="M421.62,815.94 L425.52,819.84 L421.62,823.74 L417.72,819.84Z" fill="#4a7ebb"/>
<path d="M420.44,818.91 L424.34,822.81 L420.44,826.71 L416.54,822.81Z" fill="#4a7ebb"/>
<path d="M419.21,821.87 L423.11,825.77 L419.21,829.67 L415.31,825.77Z" fill="#4a7ebb"/>
<path d="M417.8,824.74 L421.7,828.64 L417.8,832.54 L413.9,828.64Z" fill="#4a7ebb"/>
<path d="M416.17,827.49 L420.07,831.39 L416.17,835.29 L412.27,831.39Z" fill="#4a7ebb"/>
<path d="M414.14,829.96 L418.04,833.86 L414.14,837.76 L410.24,833.86Z" fill="#4a7ebb"/>
<path d="M411.64,831.94 L415.54,835.84 L411.64,839.74 L407.74,835.84Z" fill="#4a7ebb"/>
<path d="M408.77,833.33 L412.67,837.23 L408.77,841.13 L404.87,837.23Z" fill="#4a7ebb"/>
<path d="M405.69,834.18 L409.59,838.08 L405.69,841.98 L401.79,838.08Z" fill="#4a7ebb"/>
<path d="M402.51,834.59 L406.41,838.49 L402.51,842.39 L398.61,838.49Z" fill="#4a7ebb"/>
<path d="M399.32,834.54 L403.22,838.44 L399.32,842.34 L395.42,838.44Z" fill="#4a7ebb"/>
<path d="M396.17,833.99 L400.07,837.89 L396.17,841.79 L392.27,837.89Z" fill="#4a7ebb"/>
<path d="M393.11,833.05 L397.01,836.95 L393.11,840.85 L389.21,836.95Z" fill="#4a7ebb"/>
<path d="M390.23,831.67 L394.13,835.57 L390.23,839.47 L386.33,835.57Z" fill="#4a7ebb"/>
<path d="M387.61,829.84 L391.51,833.74 L387.61,837.64 L383.71,833.74Z" fill="#4a7ebb"/>
<path d="M385.07,827.89 L388.97,831.79 L385.07,835.69 L381.17,831.79Z" fill="#4a7ebb"/>
<path d="M382.61,825.85 L386.51,829.75 L382.61,833.65 L378.71,829.75Z" fill="#4a7ebb"/>
<path d="M380.19,823.76 L384.09,827.66 L380.19,831.56 L376.29,827.66Z" fill="#4a7ebb"/>
<path d="M377.76,821.67 L381.66,825.57 L377.76,829.47 L373.86,825.57Z" fill="#4a7ebb"/>
<path d="M372.37,817.21 L376.27,821.11 L372.37,825.01 L368.47,821.11Z" fill="#4a7ebb"/>
<path d="M366.67,813.14 L370.57,817.04 L366.67,820.94 L362.77,817.04Z" fill="#4a7ebb"/>
<path d="M360.99,809.05 L364.89,812.95 L360.99,816.85 L357.09,812.95Z" fill="#4a7ebb"/>
<path d="M354.96,805.49 L358.86,809.39 L354.96,813.29 L351.06,809.39Z" fill="#4a7ebb"/>
<path d="M348.83,802.13 L352.73,806.03 L348.83,809.93 L344.93,806.03Z" fill="#4a7ebb"/>
<path d="M342.43,799.29 L346.33,803.19 L342.43,807.09 L338.53,803.19Z" fill="#4a7ebb"/>
<path d="M335.8,797.06 L339.7,800.96 L335.8,804.86 L331.9,800.96Z" fill="#4a7ebb"/>
<path d="M329,795.41 L332.9,799.31 L329,803.21 L325.1,799.31Z" fill="#4a7ebb"/>
<path d="M322.17,793.88 L326.07,797.78 L322.17,801.68 L318.27,797.78Z" fill="#4a7ebb"/>
<path d="M315.22,793.1 L319.12,797 L315.22,800.9 L311.32,797Z" fill="#4a7ebb"/>
<path d="M308.24,793.45 L312.14,797.35 L308.24,801.25 L304.34,797.35Z" fill="#4a7ebb"/>
<path d="M301.29,794.3 L305.19,798.2 L301.29,802.1 L297.39,798.2Z" fill="#4a7ebb"/>
<path d="M294.39,795.47 L298.29,799.37 L294.39,803.27 L290.49,799.37Z" fill="#4a7ebb"/>
<path d="M287.67,797.42 L291.57,801.32 L287.67,805.22 L283.77,801.32Z" fill="#4a7ebb"/>
<path d="M281.33,800.38 L285.23,804.28 L281.33,808.18 L277.43,804.28Z" fill="#4a7ebb"/>
<path d="M275.29,803.92 L279.19,807.82 L275.29,811.72 L271.39,807.82Z" fill="#4a7ebb"/>
<path d="M269.72,808.13 L273.62,812.03 L269.72,815.93 L265.82,812.03Z" fill="#4a7ebb"/>
<path d="M264.43,812.72 L268.33,816.62 L264.43,820.52 L260.53,816.62Z" fill="#4a7ebb"/>
<path d="M258.89,816.98 L262.79,820.88 L258.89,824.78 L254.99,820.88Z" fill="#4a7ebb"/>
<path d="M254.28,822.24 L258.18,826.14 L254.28,830.04 L250.38,826.14Z" fill="#4a7ebb"/>
<path d="M249.86,827.67 L253.76,831.57 L249.86,835.47 L245.96,831.57Z" fill="#4a7ebb"/>
<path d="M246.24,833.65 L250.14,837.55 L246.24,841.45 L242.34,837.55Z" fill="#4a7ebb"/>
<path d="M243.27,839.99 L247.17,843.89 L243.27,847.79 L239.37,843.89Z" fill="#4a7ebb"/>
<path d="M241.7,843.6 L245.6,847.5 L241.7,851.4 L237.8,847.5Z" fill="#4a7ebb"/>
<path d="M233.5,847.5 L233.61,846.99 L233.75,846.31 L233.9,845.5 L234.09,844.61 L234.3,843.66 L234.56,842.7 L234.86,841.77 L235.2,840.9 L235.6,840.08 L236.06,839.25 L236.57,838.42 L237.12,837.59 L237.69,836.77 L238.26,835.97 L238.84,835.17 L239.4,834.4 L239.95,833.65 L240.5,832.92 L241.05,832.2 L241.61,831.49 L242.18,830.8 L242.76,830.1 L243.37,829.4 L244,828.7 L244.66,827.99 L245.35,827.27 L246.06,826.55 L246.79,825.84 L247.52,825.13 L248.26,824.43 L248.98,823.76 L249.7,823.1 L250.41,822.47 L251.13,821.86 L251.85,821.27 L252.56,820.69 L253.27,820.12 L253.97,819.55 L254.64,818.98 L255.3,818.4 L255.91,817.82 L256.47,817.26 L257.01,816.7 L257.53,816.14 L258.07,815.57 L258.65,814.97 L259.28,814.35 L260,813.7 L260.8,812.99 L261.66,812.22 L262.57,811.41 L263.52,810.59 L264.5,809.77 L265.5,808.99 L266.5,808.26 L267.5,807.6 L268.5,807.01 L269.52,806.45 L270.56,805.94 L271.61,805.46 L272.67,805.01 L273.74,804.61 L274.82,804.24 L275.9,803.9 L276.98,803.62 L278.06,803.4 L279.14,803.23 L280.23,803.09 L281.34,802.96 L282.46,802.83 L283.62,802.68 L284.8,802.5 L286.02,802.27 L287.29,802 L288.58,801.72 L289.89,801.43 L291.21,801.16 L292.52,800.92 L293.82,800.73 L295.1,800.6 L296.36,800.54 L297.61,800.55 L298.85,800.59 L300.08,800.67 L301.31,800.78 L302.54,800.89 L303.77,801 L305,801.1 L306.24,801.19 L307.5,801.27 L308.76,801.36 L310.02,801.46 L311.26,801.56 L312.48,801.69 L313.66,801.83 L314.8,802 L315.88,802.19 L316.92,802.4 L317.91,802.63 L318.89,802.88 L319.85,803.14 L320.81,803.41 L321.79,803.7 L322.8,804 L323.84,804.32 L324.91,804.65 L326,805.01 L327.09,805.38 L328.16,805.75 L329.22,806.13 L330.23,806.52 L331.2,806.9 L332.1,807.28 L332.96,807.65 L333.77,808.03 L334.56,808.41 L335.34,808.81 L336.13,809.22 L336.94,809.65 L337.8,810.1 L338.69,810.58 L339.61,811.07 L340.55,811.57 L341.49,812.1 L342.45,812.64 L343.4,813.21 L344.36,813.79 L345.3,814.4 L346.24,815.04 L347.2,815.71 L348.15,816.4 L349.11,817.12 L350.05,817.84 L350.99,818.57 L351.91,819.29 L352.8,820 L353.67,820.7 L354.54,821.4 L355.38,822.1 L356.22,822.8 L357.04,823.5 L357.84,824.2 L358.63,824.9 L359.4,825.6 L360.15,826.31 L360.88,827.03 L361.6,827.76 L362.3,828.48 L362.99,829.2 L363.67,829.89 L364.34,830.56 L365,831.2 L365.63,831.81 L366.22,832.39 L366.79,832.95 L367.35,833.49 L367.93,834.02 L368.55,834.53 L369.24,835.02 L370,835.5 L370.84,835.98 L371.74,836.46 L372.69,836.93 L373.69,837.39 L374.72,837.81 L375.79,838.2 L376.88,838.53 L378,838.8 L379.17,839.01 L380.43,839.18 L381.74,839.29 L383.06,839.37 L384.38,839.4 L385.66,839.4 L386.88,839.37 L388,839.3 L389.03,839.24 L390.01,839.2 L390.95,839.15 L391.83,839.06 L392.68,838.88 L393.48,838.58 L394.26,838.13 L395,837.5 L395.7,836.64 L396.34,835.56 L396.93,834.32 L397.49,832.97 L398.04,831.57 L398.58,830.15 L399.13,828.78 L399.7,827.5 L400.3,826.28 L400.92,825.06 L401.55,823.85 L402.17,822.64 L402.78,821.46 L403.36,820.3 L403.9,819.18 L404.4,818.1 L404.85,817.07 L405.26,816.07 L405.63,815.11 L405.98,814.17 L406.31,813.26 L406.61,812.37 L406.91,811.48 L407.2,810.6 L407.48,809.73 L407.73,808.88 L407.97,808.05 L408.19,807.24 L408.4,806.43 L408.6,805.62 L408.8,804.81 L409,804 L409.18,803.21 L409.34,802.45 L409.49,801.7 L409.63,800.96 L409.78,800.18 L409.95,799.36 L410.16,798.47 L410.4,797.5 L410.68,796.43 L410.99,795.29 L411.32,794.09 L411.67,792.84 L412.05,791.56 L412.45,790.25 L412.87,788.92 L413.3,787.6 L413.79,786.19 L414.36,784.63 L414.96,783 L415.58,781.38 L416.18,779.84 L416.71,778.44 L417.17,777.27 L417.5,776.4" fill="none" stroke="#be4b48" stroke-width="1.5" stroke-linejoin="round" stroke-linecap="round" />
<rect x="414.3" y="773.2" width="6.4" height="6.4" fill="#be4b48"/>
<rect x="409.78" y="785.39" width="6.4" height="6.4" fill="#be4b48"/>
<rect x="406.4" y="797.93" width="6.4" height="6.4" fill="#be4b48"/>
<rect x="404.52" y="805.71" width="6.4" height="6.4" fill="#be4b48"/>
<rect x="402.97" y="810.46" width="6.4" height="6.4" fill="#be4b48"/>
<rect x="401.11" y="815.1" width="6.4" height="6.4" fill="#be4b48"/>
<rect x="398.9" y="819.58" width="6.4" height="6.4" fill="#be4b48"/>
<rect x="397.52" y="822.25" width="6.4" height="6.4" fill="#be4b48"/>
<rect x="396.13" y="825.13" width="6.4" height="6.4" fill="#be4b48"/>
<rect x="394.94" y="828.1" width="6.4" height="6.4" fill="#be4b48"/>
<rect x="393.75" y="831.07" width="6.4" height="6.4" fill="#be4b48"/>
<rect x="392.17" y="833.84" width="6.4" height="6.4" fill="#be4b48"/>
<rect x="389.59" y="835.63" width="6.4" height="6.4" fill="#be4b48"/>
<rect x="386.42" y="836.02" width="6.4" height="6.4" fill="#be4b48"/>
<rect x="383.23" y="836.18" width="6.4" height="6.4" fill="#be4b48"/>
<rect x="380.03" y="836.17" width="6.4" height="6.4" fill="#be4b48"/>
<rect x="376.84" y="835.93" width="6.4" height="6.4" fill="#be4b48"/>
<rect x="373.7" y="835.33" width="6.4" height="6.4" fill="#be4b48"/>
<rect x="370.68" y="834.27" width="6.4" height="6.4" fill="#be4b48"/>
<rect x="367.81" y="832.87" width="6.4" height="6.4" fill="#be4b48"/>
<rect x="365.12" y="831.14" width="6.4" height="6.4" fill="#be4b48"/>
<rect x="362.78" y="828.95" width="6.4" height="6.4" fill="#be4b48"/>
<rect x="360.49" y="826.72" width="6.4" height="6.4" fill="#be4b48"/>
<rect x="358.27" y="824.42" width="6.4" height="6.4" fill="#be4b48"/>
<rect x="355.97" y="822.19" width="6.4" height="6.4" fill="#be4b48"/>
<rect x="353.57" y="820.07" width="6.4" height="6.4" fill="#be4b48"/>
<rect x="351.12" y="818.02" width="6.4" height="6.4" fill="#be4b48"/>
<rect x="345.61" y="813.7" width="6.4" height="6.4" fill="#be4b48"/>
<rect x="339.82" y="809.78" width="6.4" height="6.4" fill="#be4b48"/>
<rect x="333.68" y="806.41" width="6.4" height="6.4" fill="#be4b48"/>
<rect x="327.35" y="803.44" width="6.4" height="6.4" fill="#be4b48"/>
<rect x="320.74" y="801.15" width="6.4" height="6.4" fill="#be4b48"/>
<rect x="314" y="799.27" width="6.4" height="6.4" fill="#be4b48"/>
<rect x="307.07" y="798.28" width="6.4" height="6.4" fill="#be4b48"/>
<rect x="300.09" y="797.76" width="6.4" height="6.4" fill="#be4b48"/>
<rect x="293.11" y="797.35" width="6.4" height="6.4" fill="#be4b48"/>
<rect x="286.19" y="798.34" width="6.4" height="6.4" fill="#be4b48"/>
<rect x="279.31" y="799.62" width="6.4" height="6.4" fill="#be4b48"/>
<rect x="272.42" y="800.79" width="6.4" height="6.4" fill="#be4b48"/>
<rect x="265.96" y="803.45" width="6.4" height="6.4" fill="#be4b48"/>
<rect x="260.24" y="807.45" width="6.4" height="6.4" fill="#be4b48"/>
<rect x="255.07" y="812.17" width="6.4" height="6.4" fill="#be4b48"/>
<rect x="250" y="816.98" width="6.4" height="6.4" fill="#be4b48"/>
<rect x="244.71" y="821.56" width="6.4" height="6.4" fill="#be4b48"/>
<rect x="239.84" y="826.58" width="6.4" height="6.4" fill="#be4b48"/>
<rect x="235.54" y="832.11" width="6.4" height="6.4" fill="#be4b48"/>
<rect x="231.86" y="838.04" width="6.4" height="6.4" fill="#be4b48"/>
<rect x="230.3" y="844.3" width="6.4" height="6.4" fill="#be4b48"/>
<path d="M226,847.5 L226.07,847.4 L226.15,847.33 L226.25,847.26 L226.36,847.14 L226.51,846.95 L226.69,846.65 L226.92,846.21 L227.2,845.6 L227.55,844.77 L227.95,843.73 L228.4,842.54 L228.89,841.25 L229.4,839.92 L229.93,838.59 L230.47,837.34 L231,836.2 L231.54,835.16 L232.09,834.15 L232.66,833.16 L233.24,832.21 L233.83,831.29 L234.42,830.4 L235.01,829.53 L235.6,828.7 L236.18,827.9 L236.75,827.15 L237.32,826.42 L237.89,825.73 L238.47,825.05 L239.06,824.39 L239.67,823.74 L240.3,823.1 L240.96,822.45 L241.63,821.81 L242.33,821.17 L243.04,820.54 L243.75,819.95 L244.47,819.39 L245.19,818.87 L245.9,818.4 L246.61,818 L247.32,817.67 L248.03,817.38 L248.75,817.13 L249.47,816.89 L250.18,816.65 L250.89,816.4 L251.6,816.1 L252.29,815.78 L252.96,815.45 L253.62,815.11 L254.29,814.76 L254.97,814.41 L255.67,814.05 L256.41,813.68 L257.2,813.3 L258.05,812.9 L258.96,812.46 L259.92,812 L260.89,811.54 L261.88,811.09 L262.85,810.67 L263.8,810.31 L264.7,810 L265.54,809.76 L266.33,809.57 L267.08,809.43 L267.83,809.32 L268.59,809.23 L269.39,809.15 L270.26,809.08 L271.2,809 L272.24,808.92 L273.37,808.85 L274.56,808.79 L275.78,808.74 L277.02,808.69 L278.25,808.66 L279.45,808.63 L280.6,808.6 L281.7,808.58 L282.79,808.56 L283.86,808.55 L284.92,808.54 L285.96,808.55 L286.99,808.56 L288,808.57 L289,808.6 L289.98,808.63 L290.94,808.66 L291.88,808.69 L292.81,808.74 L293.73,808.8 L294.65,808.87 L295.57,808.97 L296.5,809.1 L297.44,809.26 L298.4,809.46 L299.35,809.68 L300.31,809.91 L301.25,810.16 L302.19,810.41 L303.11,810.66 L304,810.9 L304.87,811.12 L305.71,811.34 L306.54,811.54 L307.36,811.76 L308.16,811.98 L308.97,812.22 L309.78,812.49 L310.6,812.8 L311.43,813.15 L312.27,813.53 L313.12,813.93 L313.96,814.36 L314.8,814.8 L315.62,815.24 L316.42,815.68 L317.2,816.1 L317.94,816.51 L318.65,816.9 L319.33,817.29 L320,817.69 L320.67,818.09 L321.35,818.5 L322.06,818.94 L322.8,819.4 L323.56,819.86 L324.32,820.31 L325.08,820.75 L325.87,821.22 L326.68,821.74 L327.54,822.31 L328.44,822.95 L329.4,823.7 L330.43,824.58 L331.53,825.6 L332.69,826.71 L333.88,827.87 L335.09,829.04 L336.3,830.18 L337.51,831.25 L338.7,832.2 L339.87,833.08 L341.04,833.96 L342.22,834.8 L343.39,835.59 L344.57,836.3 L345.75,836.93 L346.92,837.43 L348.1,837.8 L349.29,838.02 L350.49,838.12 L351.71,838.11 L352.92,837.99 L354.11,837.8 L355.28,837.54 L356.42,837.24 L357.5,836.9 L358.54,836.51 L359.55,836.04 L360.54,835.5 L361.49,834.91 L362.41,834.27 L363.3,833.6 L364.17,832.9 L365,832.2 L365.81,831.47 L366.6,830.7 L367.36,829.9 L368.09,829.08 L368.79,828.22 L369.44,827.36 L370.05,826.48 L370.6,825.6 L371.09,824.69 L371.52,823.74 L371.89,822.77 L372.23,821.79 L372.54,820.81 L372.83,819.86 L373.11,818.95 L373.4,818.1 L373.69,817.31 L373.96,816.57 L374.22,815.86 L374.47,815.18 L374.7,814.52 L374.92,813.86 L375.12,813.19 L375.3,812.5 L375.46,811.8 L375.59,811.1 L375.71,810.4 L375.81,809.71 L375.9,809.01 L375.99,808.31 L376.09,807.6 L376.2,806.9 L376.31,806.22 L376.42,805.57 L376.53,804.93 L376.64,804.28 L376.76,803.61 L376.89,802.88 L377.04,802.09 L377.2,801.2 L377.38,800.25 L377.58,799.26 L377.79,798.23 L378.01,797.13 L378.25,795.96 L378.49,794.71 L378.74,793.36 L379,791.9 L379.29,790.2 L379.61,788.2 L379.96,786.03 L380.31,783.82 L380.65,781.68 L380.95,779.73 L381.21,778.1 L381.4,776.9" fill="none" stroke="#98b954" stroke-width="1.5" stroke-linejoin="round" stroke-linecap="round" />
<path d="M381.4,772.76 L385.36,779.78 L377.44,779.78Z" fill="#98b954"/>
<path d="M379.36,785.6 L383.32,792.62 L375.4,792.62Z" fill="#98b954"/>
<path d="M376.96,798.37 L380.92,805.39 L373,805.39Z" fill="#98b954"/>
<path d="M375.7,806.27 L379.66,813.29 L371.74,813.29Z" fill="#98b954"/>
<path d="M374.45,811.1 L378.41,818.12 L370.49,818.12Z" fill="#98b954"/>
<path d="M372.8,815.82 L376.76,822.84 L368.84,822.84Z" fill="#98b954"/>
<path d="M371.1,820.52 L375.06,827.54 L367.14,827.54Z" fill="#98b954"/>
<path d="M369.42,823.24 L373.38,830.26 L365.46,830.26Z" fill="#98b954"/>
<path d="M367.4,825.72 L371.36,832.74 L363.44,832.74Z" fill="#98b954"/>
<path d="M365.12,827.96 L369.08,834.98 L361.16,834.98Z" fill="#98b954"/>
<path d="M362.63,829.97 L366.59,836.99 L358.67,836.99Z" fill="#98b954"/>
<path d="M359.93,831.69 L363.89,838.71 L355.97,838.71Z" fill="#98b954"/>
<path d="M356.99,832.92 L360.95,839.94 L353.03,839.94Z" fill="#98b954"/>
<path d="M353.89,833.7 L357.85,840.72 L349.93,840.72Z" fill="#98b954"/>
<path d="M350.7,833.98 L354.66,841 L346.74,841Z" fill="#98b954"/>
<path d="M347.55,833.49 L351.51,840.51 L343.59,840.51Z" fill="#98b954"/>
<path d="M344.63,832.2 L348.59,839.22 L340.67,839.22Z" fill="#98b954"/>
<path d="M341.95,830.46 L345.91,837.48 L337.99,837.48Z" fill="#98b954"/>
<path d="M339.37,828.57 L343.33,835.59 L335.41,835.59Z" fill="#98b954"/>
<path d="M336.89,826.55 L340.85,833.57 L332.93,833.57Z" fill="#98b954"/>
<path d="M334.54,824.37 L338.5,831.39 L330.58,831.39Z" fill="#98b954"/>
<path d="M332.25,822.14 L336.21,829.16 L328.29,829.16Z" fill="#98b954"/>
<path d="M329.89,819.98 L333.85,827 L325.93,827Z" fill="#98b954"/>
<path d="M324.11,816.05 L328.07,823.07 L320.15,823.07Z" fill="#98b954"/>
<path d="M318.1,812.46 L322.06,819.48 L314.14,819.48Z" fill="#98b954"/>
<path d="M311.9,809.22 L315.86,816.24 L307.94,816.24Z" fill="#98b954"/>
<path d="M305.25,807.08 L309.21,814.1 L301.29,814.1Z" fill="#98b954"/>
<path d="M298.47,805.33 L302.43,812.35 L294.51,812.35Z" fill="#98b954"/>
<path d="M291.53,804.54 L295.49,811.56 L287.57,811.56Z" fill="#98b954"/>
<path d="M284.53,804.41 L288.49,811.43 L280.57,811.43Z" fill="#98b954"/>
<path d="M277.53,804.54 L281.49,811.56 L273.57,811.56Z" fill="#98b954"/>
<path d="M270.54,804.92 L274.5,811.94 L266.58,811.94Z" fill="#98b954"/>
<path d="M263.69,806.21 L267.65,813.23 L259.73,813.23Z" fill="#98b954"/>
<path d="M257.32,809.1 L261.28,816.12 L253.36,816.12Z" fill="#98b954"/>
<path d="M251.04,812.19 L255,819.21 L247.08,819.21Z" fill="#98b954"/>
<path d="M244.7,815.08 L248.66,822.1 L240.74,822.1Z" fill="#98b954"/>
<path d="M239.52,819.76 L243.48,826.78 L235.56,826.78Z" fill="#98b954"/>
<path d="M235.14,825.22 L239.1,832.24 L231.18,832.24Z" fill="#98b954"/>
<path d="M231.46,831.17 L235.42,838.19 L227.5,838.19Z" fill="#98b954"/>
<path d="M228.7,837.6 L232.66,844.62 L224.74,844.62Z" fill="#98b954"/>
<path d="M226,843.36 L229.96,850.38 L222.04,850.38Z" fill="#98b954"/>
<line x1="824" y1="504.6" x2="1188.75" y2="504.6" stroke="#7f7f7f" stroke-width="2.2"/>
<line x1="1188.75" y1="504.6" x2="1188.75" y2="843.75" stroke="#7f7f7f" stroke-width="2.2"/>
<line x1="824" y1="843.75" x2="1188.75" y2="843.75" stroke="#6a6a6a" stroke-width="2.2"/>
<line x1="824" y1="504.6" x2="824" y2="843.75" stroke="#383838" stroke-width="2"/>
<line x1="818" y1="843.75" x2="824" y2="843.75" stroke="#383838" stroke-width="1.8"/>
<line x1="820" y1="787.23" x2="824" y2="787.23" stroke="#383838" stroke-width="1.8"/>
<line x1="818" y1="730.7" x2="824" y2="730.7" stroke="#383838" stroke-width="1.8"/>
<line x1="820" y1="674.17" x2="824" y2="674.17" stroke="#383838" stroke-width="1.8"/>
<line x1="818" y1="617.65" x2="824" y2="617.65" stroke="#383838" stroke-width="1.8"/>
<line x1="820" y1="561.12" x2="824" y2="561.12" stroke="#383838" stroke-width="1.8"/>
<line x1="818" y1="504.6" x2="824" y2="504.6" stroke="#383838" stroke-width="1.8"/>
<line x1="824" y1="843.75" x2="824" y2="848.75" stroke="#707070" stroke-width="1.8"/>
<line x1="884.79" y1="843.75" x2="884.79" y2="848.75" stroke="#707070" stroke-width="1.8"/>
<line x1="945.58" y1="843.75" x2="945.58" y2="848.75" stroke="#707070" stroke-width="1.8"/>
<line x1="1006.38" y1="843.75" x2="1006.38" y2="848.75" stroke="#707070" stroke-width="1.8"/>
<line x1="1067.17" y1="843.75" x2="1067.17" y2="848.75" stroke="#707070" stroke-width="1.8"/>
<line x1="1127.96" y1="843.75" x2="1127.96" y2="848.75" stroke="#707070" stroke-width="1.8"/>
<line x1="1188.75" y1="843.75" x2="1188.75" y2="848.75" stroke="#707070" stroke-width="1.8"/>
<text x="805.5" y="851.75" font-size="24.08" text-anchor="end" fill="#4d4d4d" textLength="11.96" lengthAdjust="spacingAndGlyphs">0</text>
<text x="824" y="876.65" font-size="24.08" text-anchor="middle" fill="#4d4d4d" textLength="11.96" lengthAdjust="spacingAndGlyphs">0</text>
<text x="805.5" y="738.7" font-size="24.08" text-anchor="end" fill="#4d4d4d" textLength="19.12" lengthAdjust="spacingAndGlyphs">-1</text>
<text x="945.58" y="876.65" font-size="24.08" text-anchor="middle" fill="#4d4d4d" textLength="11.96" lengthAdjust="spacingAndGlyphs">1</text>
<text x="805.5" y="625.65" font-size="24.08" text-anchor="end" fill="#4d4d4d" textLength="19.12" lengthAdjust="spacingAndGlyphs">-2</text>
<text x="1067.17" y="876.65" font-size="24.08" text-anchor="middle" fill="#4d4d4d" textLength="11.96" lengthAdjust="spacingAndGlyphs">2</text>
<text x="805.5" y="512.6" font-size="24.08" text-anchor="end" fill="#4d4d4d" textLength="19.12" lengthAdjust="spacingAndGlyphs">-3</text>
<text x="1188.75" y="876.65" font-size="24.08" text-anchor="middle" fill="#4d4d4d" textLength="11.96" lengthAdjust="spacingAndGlyphs">3</text>
<text x="1020" y="891" font-size="20" text-anchor="middle" fill="#111111" font-weight="bold" letter-spacing="0.6">Z' / Ω cm<tspan font-size="13" dy="-8">2</tspan></text>
<text x="0" y="0" font-size="20" text-anchor="middle" fill="#111111" font-weight="bold" transform="translate(781,675) rotate(-90)">Z'' / Ω cm<tspan font-size="13" dy="-8">2</tspan></text>
<text x="749.5" y="476.4" font-size="30" text-anchor="middle" fill="#111111" font-weight="normal" textLength="35.5" lengthAdjust="spacingAndGlyphs">(d)</text>
<line x1="977.8" y1="529.7" x2="993.75" y2="529.7" stroke="#4a7ebb" stroke-width="1.5"/>
<path d="M985.77,526.3 L989.17,529.7 L985.77,533.1 L982.38,529.7Z" fill="#4a7ebb"/>
<text x="997.5" y="537.46" font-size="23.07" text-anchor="start" fill="#4d4d4d" textLength="175.95" lengthAdjust="spacingAndGlyphs">Room Temperature</text>
<line x1="977.8" y1="558.4" x2="993.75" y2="558.4" stroke="#be4b48" stroke-width="1.5"/>
<rect x="982.57" y="555.2" width="6.4" height="6.4" fill="#be4b48"/>
<text x="997.5" y="566.16" font-size="23.07" text-anchor="start" fill="#4d4d4d" textLength="51.75" lengthAdjust="spacingAndGlyphs">50 °C</text>
<line x1="977.8" y1="586" x2="993.75" y2="586" stroke="#98b954" stroke-width="1.5"/>
<path d="M985.77,581.86 L989.74,588.88 L981.81,588.88Z" fill="#98b954"/>
<text x="997.5" y="593.76" font-size="23.07" text-anchor="start" fill="#4d4d4d" textLength="51.75" lengthAdjust="spacingAndGlyphs">75 °C</text>
<path d="M966.1,844.3 L967.02,843.85 L968.23,843.25 L969.68,842.54 L971.29,841.74 L972.99,840.91 L974.72,840.06 L976.42,839.25 L978,838.5 L979.45,837.84 L980.81,837.26 L982.15,836.71 L983.51,836.14 L984.94,835.53 L986.5,834.83 L988.23,834 L990.2,833 L992.5,831.78 L995.12,830.37 L997.96,828.82 L1000.91,827.19 L1003.86,825.52 L1006.7,823.88 L1009.31,822.32 L1011.6,820.9 L1013.59,819.6 L1015.39,818.35 L1017.02,817.15 L1018.52,816 L1019.9,814.88 L1021.19,813.77 L1022.42,812.69 L1023.6,811.6 L1024.7,810.52 L1025.68,809.46 L1026.56,808.41 L1027.36,807.39 L1028.12,806.38 L1028.84,805.4 L1029.56,804.44 L1030.3,803.5 L1031.05,802.61 L1031.79,801.77 L1032.51,800.97 L1033.21,800.18 L1033.89,799.39 L1034.53,798.58 L1035.13,797.72 L1035.7,796.8 L1036.22,795.82 L1036.69,794.8 L1037.12,793.75 L1037.52,792.67 L1037.9,791.57 L1038.27,790.45 L1038.63,789.33 L1039,788.2 L1039.35,787.07 L1039.67,785.94 L1039.97,784.79 L1040.26,783.63 L1040.57,782.46 L1040.9,781.26 L1041.27,780.04 L1041.7,778.8 L1042.17,777.56 L1042.66,776.33 L1043.18,775.1 L1043.74,773.84 L1044.33,772.53 L1044.97,771.15 L1045.66,769.68 L1046.4,768.1 L1047.27,766.28 L1048.29,764.18 L1049.41,761.92 L1050.54,759.63 L1051.64,757.42 L1052.65,755.42 L1053.49,753.74 L1054.1,752.5" fill="none" stroke="#4a7ebb" stroke-width="1.5" stroke-linejoin="round" stroke-linecap="round" />
<path d="M1054.1,748.9 L1057.7,752.5 L1054.1,756.1 L1050.5,752.5Z" fill="#4a7ebb"/>
<path d="M1047.22,762.79 L1050.82,766.39 L1047.22,769.99 L1043.62,766.39Z" fill="#4a7ebb"/>
<path d="M1042.27,773.72 L1045.87,777.32 L1042.27,780.92 L1038.67,777.32Z" fill="#4a7ebb"/>
<path d="M1039.54,782.81 L1043.14,786.41 L1039.54,790.01 L1035.94,786.41Z" fill="#4a7ebb"/>
<path d="M1036.83,790.86 L1040.43,794.46 L1036.83,798.06 L1033.23,794.46Z" fill="#4a7ebb"/>
<path d="M1033.41,796.35 L1037.01,799.95 L1033.41,803.55 L1029.81,799.95Z" fill="#4a7ebb"/>
<path d="M1029.21,801.31 L1032.81,804.91 L1029.21,808.51 L1025.61,804.91Z" fill="#4a7ebb"/>
<path d="M1027.72,803.31 L1031.32,806.91 L1027.72,810.51 L1024.12,806.91Z" fill="#4a7ebb"/>
<path d="M1026.17,805.28 L1029.77,808.88 L1026.17,812.48 L1022.57,808.88Z" fill="#4a7ebb"/>
<path d="M1024.49,807.13 L1028.09,810.73 L1024.49,814.33 L1020.89,810.73Z" fill="#4a7ebb"/>
<path d="M1022.68,808.85 L1026.28,812.45 L1022.68,816.05 L1019.08,812.45Z" fill="#4a7ebb"/>
<path d="M1020.81,810.5 L1024.41,814.1 L1020.81,817.7 L1017.21,814.1Z" fill="#4a7ebb"/>
<path d="M1018.88,812.1 L1022.48,815.7 L1018.88,819.3 L1015.28,815.7Z" fill="#4a7ebb"/>
<path d="M1016.91,813.64 L1020.51,817.24 L1016.91,820.84 L1013.31,817.24Z" fill="#4a7ebb"/>
<path d="M1014.88,815.1 L1018.48,818.7 L1014.88,822.3 L1011.28,818.7Z" fill="#4a7ebb"/>
<path d="M1012.81,816.5 L1016.41,820.1 L1012.81,823.7 L1009.21,820.1Z" fill="#4a7ebb"/>
<path d="M1010.71,817.85 L1014.31,821.45 L1010.71,825.05 L1007.11,821.45Z" fill="#4a7ebb"/>
<path d="M1008.58,819.16 L1012.18,822.76 L1008.58,826.36 L1004.98,822.76Z" fill="#4a7ebb"/>
<path d="M1006.43,820.44 L1010.03,824.04 L1006.43,827.64 L1002.83,824.04Z" fill="#4a7ebb"/>
<path d="M1004.27,821.69 L1007.87,825.29 L1004.27,828.89 L1000.67,825.29Z" fill="#4a7ebb"/>
<path d="M1002.09,822.92 L1005.69,826.52 L1002.09,830.12 L998.49,826.52Z" fill="#4a7ebb"/>
<path d="M999.91,824.14 L1003.51,827.74 L999.91,831.34 L996.31,827.74Z" fill="#4a7ebb"/>
<path d="M997.72,825.35 L1001.32,828.95 L997.72,832.55 L994.12,828.95Z" fill="#4a7ebb"/>
<path d="M995.53,826.55 L999.13,830.15 L995.53,833.75 L991.93,830.15Z" fill="#4a7ebb"/>
<path d="M993.33,827.74 L996.93,831.34 L993.33,834.94 L989.73,831.34Z" fill="#4a7ebb"/>
<path d="M991.12,828.91 L994.72,832.51 L991.12,836.11 L987.52,832.51Z" fill="#4a7ebb"/>
<path d="M988.9,830.06 L992.5,833.66 L988.9,837.26 L985.3,833.66Z" fill="#4a7ebb"/>
<path d="M986.65,831.16 L990.25,834.76 L986.65,838.36 L983.05,834.76Z" fill="#4a7ebb"/>
<path d="M984.37,832.18 L987.97,835.78 L984.37,839.38 L980.77,835.78Z" fill="#4a7ebb"/>
<path d="M982.06,833.14 L985.66,836.74 L982.06,840.34 L978.46,836.74Z" fill="#4a7ebb"/>
<path d="M979.76,834.11 L983.36,837.71 L979.76,841.31 L976.16,837.71Z" fill="#4a7ebb"/>
<path d="M977.48,835.14 L981.08,838.74 L977.48,842.34 L973.88,838.74Z" fill="#4a7ebb"/>
<path d="M975.23,836.22 L978.83,839.82 L975.23,843.42 L971.63,839.82Z" fill="#4a7ebb"/>
<path d="M972.98,837.31 L976.58,840.91 L972.98,844.51 L969.38,840.91Z" fill="#4a7ebb"/>
<path d="M970.74,838.42 L974.34,842.02 L970.74,845.62 L967.14,842.02Z" fill="#4a7ebb"/>
<path d="M968.49,839.52 L972.09,843.12 L968.49,846.72 L964.89,843.12Z" fill="#4a7ebb"/>
<path d="M966.1,840.7 L969.7,844.3 L966.1,847.9 L962.5,844.3Z" fill="#4a7ebb"/>
<path d="M954.1,843.6 L954.71,843.16 L955.51,842.58 L956.47,841.88 L957.54,841.11 L958.67,840.3 L959.82,839.49 L960.94,838.71 L962,838 L962.97,837.37 L963.88,836.78 L964.77,836.22 L965.67,835.66 L966.64,835.08 L967.69,834.45 L968.86,833.77 L970.2,833 L971.75,832.15 L973.51,831.25 L975.41,830.3 L977.39,829.31 L979.39,828.26 L981.35,827.18 L983.21,826.06 L984.9,824.9 L986.47,823.66 L988.01,822.31 L989.5,820.9 L990.92,819.46 L992.25,818.03 L993.49,816.65 L994.61,815.36 L995.6,814.2 L996.42,813.2 L997.07,812.34 L997.59,811.57 L998.02,810.85 L998.39,810.13 L998.76,809.36 L999.15,808.5 L999.6,807.5 L1000.11,806.37 L1000.63,805.17 L1001.16,803.89 L1001.68,802.56 L1002.2,801.18 L1002.69,799.75 L1003.16,798.29 L1003.6,796.8 L1003.99,795.25 L1004.32,793.63 L1004.62,791.95 L1004.91,790.24 L1005.21,788.51 L1005.52,786.8 L1005.88,785.12 L1006.3,783.5 L1006.8,781.98 L1007.38,780.55 L1008,779.16 L1008.64,777.79 L1009.28,776.37 L1009.89,774.86 L1010.44,773.22 L1010.9,771.4 L1011.29,769.25 L1011.63,766.75 L1011.93,764.05 L1012.19,761.29 L1012.41,758.63 L1012.6,756.21 L1012.76,754.19 L1012.9,752.7" fill="none" stroke="#be4b48" stroke-width="1.5" stroke-linejoin="round" stroke-linecap="round" />
<rect x="1009.8" y="749.6" width="6.2" height="6.2" fill="#be4b48"/>
<rect x="1008.34" y="765.03" width="6.2" height="6.2" fill="#be4b48"/>
<rect x="1004.75" y="776.41" width="6.2" height="6.2" fill="#be4b48"/>
<rect x="1002.09" y="785.49" width="6.2" height="6.2" fill="#be4b48"/>
<rect x="1000.46" y="793.83" width="6.2" height="6.2" fill="#be4b48"/>
<rect x="998.38" y="799.98" width="6.2" height="6.2" fill="#be4b48"/>
<rect x="997.43" y="802.3" width="6.2" height="6.2" fill="#be4b48"/>
<rect x="996.42" y="804.58" width="6.2" height="6.2" fill="#be4b48"/>
<rect x="995.38" y="806.86" width="6.2" height="6.2" fill="#be4b48"/>
<rect x="994.12" y="809.01" width="6.2" height="6.2" fill="#be4b48"/>
<rect x="992.59" y="810.99" width="6.2" height="6.2" fill="#be4b48"/>
<rect x="990.97" y="812.89" width="6.2" height="6.2" fill="#be4b48"/>
<rect x="989.31" y="814.76" width="6.2" height="6.2" fill="#be4b48"/>
<rect x="987.6" y="816.59" width="6.2" height="6.2" fill="#be4b48"/>
<rect x="985.83" y="818.35" width="6.2" height="6.2" fill="#be4b48"/>
<rect x="983.98" y="820.03" width="6.2" height="6.2" fill="#be4b48"/>
<rect x="982.04" y="821.61" width="6.2" height="6.2" fill="#be4b48"/>
<rect x="979.99" y="823.03" width="6.2" height="6.2" fill="#be4b48"/>
<rect x="977.84" y="824.31" width="6.2" height="6.2" fill="#be4b48"/>
<rect x="975.64" y="825.5" width="6.2" height="6.2" fill="#be4b48"/>
<rect x="973.42" y="826.65" width="6.2" height="6.2" fill="#be4b48"/>
<rect x="971.18" y="827.77" width="6.2" height="6.2" fill="#be4b48"/>
<rect x="968.95" y="828.9" width="6.2" height="6.2" fill="#be4b48"/>
<rect x="966.76" y="830.1" width="6.2" height="6.2" fill="#be4b48"/>
<rect x="964.6" y="831.35" width="6.2" height="6.2" fill="#be4b48"/>
<rect x="962.45" y="832.63" width="6.2" height="6.2" fill="#be4b48"/>
<rect x="960.34" y="833.96" width="6.2" height="6.2" fill="#be4b48"/>
<rect x="958.25" y="835.34" width="6.2" height="6.2" fill="#be4b48"/>
<rect x="956.19" y="836.76" width="6.2" height="6.2" fill="#be4b48"/>
<rect x="954.16" y="838.21" width="6.2" height="6.2" fill="#be4b48"/>
<rect x="952.13" y="839.68" width="6.2" height="6.2" fill="#be4b48"/>
<rect x="951" y="840.5" width="6.2" height="6.2" fill="#be4b48"/>
<path d="M930,843.6 L930.53,842.94 L931.24,842.06 L932.08,841.01 L933.01,839.84 L934.01,838.61 L935.03,837.36 L936.04,836.14 L937,835 L937.95,833.91 L938.93,832.82 L939.94,831.73 L940.95,830.63 L941.96,829.54 L942.94,828.45 L943.9,827.37 L944.8,826.3 L945.65,825.25 L946.44,824.22 L947.2,823.19 L947.94,822.17 L948.68,821.15 L949.42,820.12 L950.19,819.07 L951,818 L951.86,816.92 L952.75,815.85 L953.67,814.78 L954.6,813.69 L955.52,812.57 L956.42,811.4 L957.29,810.19 L958.1,808.9 L958.88,807.53 L959.64,806.08 L960.37,804.58 L961.08,803.03 L961.75,801.46 L962.39,799.89 L962.97,798.33 L963.5,796.8 L963.96,795.26 L964.36,793.68 L964.7,792.09 L965.01,790.5 L965.28,788.95 L965.55,787.47 L965.82,786.07 L966.1,784.8 L966.38,783.71 L966.65,782.8 L966.9,782.02 L967.15,781.28 L967.4,780.53 L967.65,779.69 L967.92,778.71 L968.2,777.5 L968.52,776.08 L968.87,774.5 L969.24,772.79 L969.61,770.99 L969.96,769.13 L970.29,767.22 L970.58,765.3 L970.8,763.4 L970.96,761.38 L971.06,759.16 L971.13,756.84 L971.16,754.52 L971.18,752.31 L971.18,750.32 L971.18,748.65 L971.2,747.4" fill="none" stroke="#98b954" stroke-width="1.5" stroke-linejoin="round" stroke-linecap="round" />
<path d="M971.2,743.61 L974.83,750.04 L967.57,750.04Z" fill="#98b954"/>
<path d="M970.84,759.1 L974.47,765.53 L967.21,765.53Z" fill="#98b954"/>
<path d="M968.82,770.92 L972.45,777.35 L965.19,777.35Z" fill="#98b954"/>
<path d="M966.34,780.08 L969.97,786.51 L962.71,786.51Z" fill="#98b954"/>
<path d="M964.68,788.41 L968.31,794.85 L961.05,794.85Z" fill="#98b954"/>
<path d="M962.92,794.66 L966.55,801.1 L959.29,801.1Z" fill="#98b954"/>
<path d="M960.43,800.66 L964.06,807.1 L956.8,807.1Z" fill="#98b954"/>
<path d="M959.31,802.9 L962.94,809.34 L955.68,809.34Z" fill="#98b954"/>
<path d="M958.11,805.09 L961.74,811.53 L954.48,811.53Z" fill="#98b954"/>
<path d="M956.73,807.18 L960.36,813.61 L953.1,813.61Z" fill="#98b954"/>
<path d="M955.21,809.16 L958.84,815.59 L951.58,815.59Z" fill="#98b954"/>
<path d="M953.6,811.07 L957.23,817.5 L949.97,817.5Z" fill="#98b954"/>
<path d="M951.98,812.98 L955.61,819.41 L948.35,819.41Z" fill="#98b954"/>
<path d="M950.44,814.95 L954.07,821.38 L946.81,821.38Z" fill="#98b954"/>
<path d="M948.96,816.96 L952.59,823.4 L945.33,823.4Z" fill="#98b954"/>
<path d="M947.5,818.99 L951.13,825.42 L943.87,825.42Z" fill="#98b954"/>
<path d="M946,820.99 L949.63,827.43 L942.37,827.43Z" fill="#98b954"/>
<path d="M944.43,822.94 L948.06,829.37 L940.8,829.37Z" fill="#98b954"/>
<path d="M942.79,824.82 L946.42,831.26 L939.16,831.26Z" fill="#98b954"/>
<path d="M941.1,826.67 L944.73,833.1 L937.47,833.1Z" fill="#98b954"/>
<path d="M939.41,828.51 L943.04,834.94 L935.78,834.94Z" fill="#98b954"/>
<path d="M937.74,830.36 L941.37,836.8 L934.11,836.8Z" fill="#98b954"/>
<path d="M936.11,832.26 L939.74,838.7 L932.48,838.7Z" fill="#98b954"/>
<path d="M934.52,834.19 L938.15,840.62 L930.89,840.62Z" fill="#98b954"/>
<path d="M932.95,836.13 L936.58,842.57 L929.32,842.57Z" fill="#98b954"/>
<path d="M931.38,838.08 L935.01,844.52 L927.75,844.52Z" fill="#98b954"/>
<path d="M930,839.81 L933.63,846.24 L926.37,846.24Z" fill="#98b954"/>
</svg></body></html>
